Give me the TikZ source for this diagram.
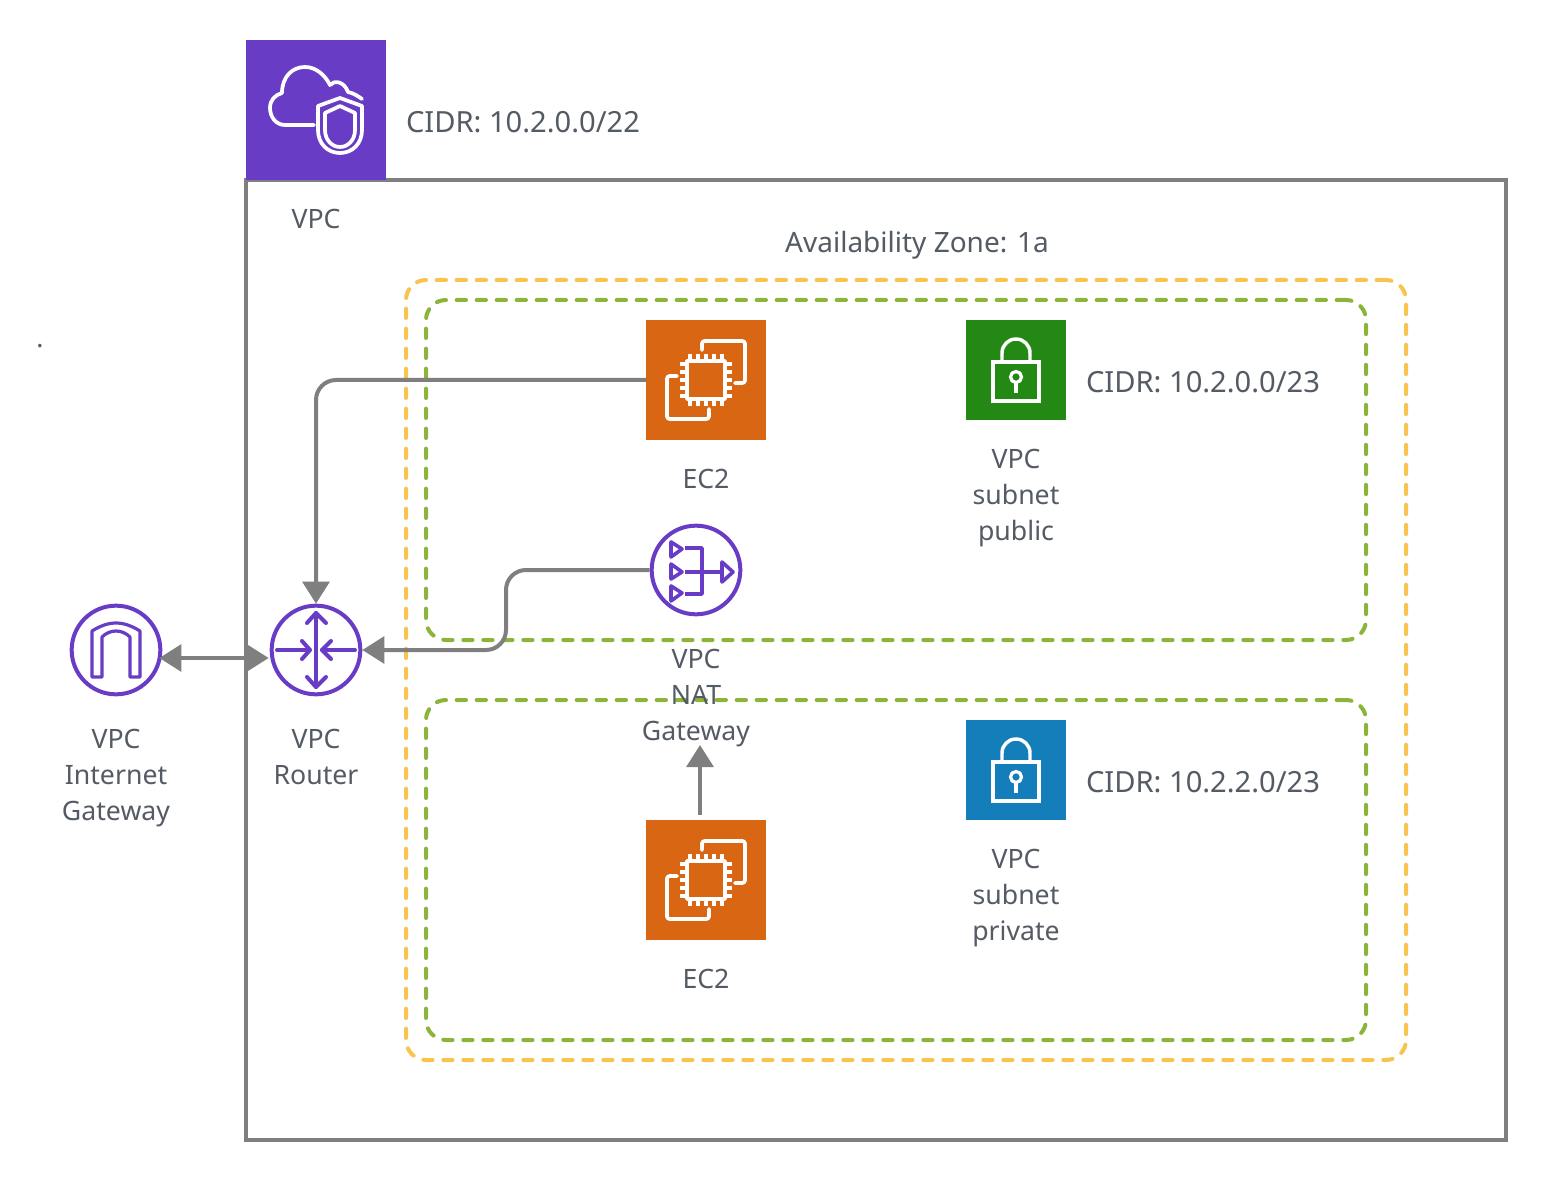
\documentclass[tikz,border=0pt]{standalone}
\usepackage{fontspec}
\setmainfont{Noto Sans}
\usetikzlibrary{arrows.meta,calc}
\definecolor{purp}{HTML}{693CC5}
\definecolor{orng}{HTML}{D86613}
\definecolor{grn}{HTML}{248814}
\definecolor{blu}{HTML}{147EBA}
\definecolor{gry}{HTML}{7F7F7F}
\definecolor{txt}{HTML}{545B64}
\definecolor{yelw}{HTML}{F8C34F}
\definecolor{lime}{HTML}{8CB43A}
\tikzset{
  x=0.75pt,y=-0.75pt,
  lbl/.style={text=txt,font=\fontsize{20}{27}\selectfont,align=center,inner sep=0pt},
  cidr/.style={lbl,font=\fontsize{21.85}{27}\selectfont},
  azbox/.style={draw=yelw,line width=3pt,rounded corners=15pt,line cap=round,dash pattern=on 7pt off 8pt},
  subbox/.style={draw=lime,line width=3pt,rounded corners=15pt,line cap=round,dash pattern=on 7pt off 8pt},
  tile/.style={inner sep=0pt,outer sep=0pt,minimum size=#1},
  ring/.style={circle,draw=purp,line width=3pt,inner sep=0pt,fill=white,minimum size=66.5pt},
  wht/.style={draw=white,line width=2.8pt,line join=round,line cap=round},
  thn/.style={draw=white,line width=2.4pt,line cap=butt},
  pur/.style={draw=purp,line width=3pt,line join=round,line cap=round},
  con/.style={draw=gry,line width=3pt,rounded corners=15pt,-{Triangle[length=16.5pt,width=20pt]}},
  condbl/.style={draw=gry,line width=3pt,{Triangle[length=16.5pt,width=20pt]}-{Triangle[length=16.5pt,width=20pt]}},
}
\begin{document}
\begin{tikzpicture}
\useasboundingbox (0,0) rectangle (1546,1180);
\fill[white] (0,0) rectangle (1546,1180);
% containers
\node[draw=gry,line width=3pt,inner sep=0pt,outer sep=0pt,minimum width=945pt,minimum height=720pt] (frame) at (876,660) {};
\node[azbox,inner sep=0pt,outer sep=0pt,minimum width=750pt,minimum height=585pt] (az) at (906,670) {};
\node[subbox,inner sep=0pt,outer sep=0pt,minimum width=705pt,minimum height=255pt] (pub) at (896,470) {};
\node[subbox,inner sep=0pt,outer sep=0pt,minimum width=705pt,minimum height=255pt] (priv) at (896,870) {};
% VPC tile
\node[tile=105pt,fill=purp] (vpc) at (316,110) {};
\draw[wht] (314,125) -- (285,125) .. controls (276,125) and (270,117) .. (270,108)
  .. controls (270,100) and (275,95) .. (282,93)
  .. controls (282,77) and (292,67) .. (305,67)
  .. controls (316,67) and (325,75) .. (330,85)
  .. controls (334,80) and (344,81) .. (348,92)
  .. controls (353,93) and (358,96) .. (362,99);
\draw[wht,fill=purp] (340,98) -- (318,106) -- (318,130) .. controls (318,144) and (328,153) .. (340,153)
  .. controls (352,153) and (362,144) .. (362,130) -- (362,106) -- cycle;
\draw[wht] (340,106) -- (325,113) -- (325,130) .. controls (325,140) and (332,147) .. (340,147)
  .. controls (348,147) and (355,140) .. (355,130) -- (355,113) -- cycle;
% EC2
\node[tile=90pt,fill=orng] (ec2a) at (706,380) {};
\node[tile=90pt,fill=orng] (ec2b) at (706,880) {};
\foreach \cy in {380,880}{
\begin{scope}[shift={(706,\cy)}]
  \draw[wht] (-19,-19) rectangle (19,19);
  \foreach \p in {-16,-8,0,8,16}{
    \draw[thn] (\p,-19) -- (\p,-26);
    \draw[thn] (\p,19) -- (\p,26);
    \draw[thn] (-19,\p) -- (-26,\p);
    \draw[thn] (19,\p) -- (26,\p);
  }
  \draw[wht,rounded corners=2pt] (-4,-30) -- (-4,-39) -- (39,-39) -- (39,3) -- (29,3);
  \draw[wht,rounded corners=2pt] (-29,-4) -- (-39,-4) -- (-39,39) -- (3,39) -- (3,29);
\end{scope}}
% subnets
\node[tile=75pt,fill=grn] (snpub) at (1016,370) {};
\node[tile=75pt,fill=blu] (snpriv) at (1016,770) {};
\foreach \cy in {370,770}{
\begin{scope}[shift={(1016,\cy)}]
  \draw[wht,line width=2.6pt,line cap=butt,line join=miter] (-23,-8) rectangle (23,31);
  \draw[wht,line width=2.6pt,line cap=butt] (-14,-8) -- (-14,-17) arc[start angle=180,end angle=360,radius=14] -- (14,-8);
  \draw[thn] (0,7) circle[radius=5.5];
  \draw[thn] (0,12.5) -- (0,23);
\end{scope}}
% circular icons
\node[ring] (igw) at (116,650) {};
\node[ring] (router) at (316,650) {};
\node[ring] (nat) at (696,570) {};
% igw glyph
\draw[pur,line width=2.4pt] (92,677) -- (92,631) .. controls (100,626) and (108,623) .. (116,623)
  .. controls (124,623) and (132,626) .. (140,631) -- (140,677) -- (130,677) -- (130,637)
  .. controls (126,633) and (121,631) .. (116,631) .. controls (111,631) and (106,633) .. (102,637)
  -- (102,677) -- cycle;
% router glyph
\draw[pur] (316,613) -- (316,687);
\draw[pur] (307,623) -- (316,613) -- (326,623);
\draw[pur] (307,677) -- (316,687) -- (326,677);
\draw[pur] (277,650) -- (310,650);
\draw[pur] (302,641) -- (310,650) -- (302,659);
\draw[pur] (355,650) -- (322,650);
\draw[pur] (331,641) -- (322,650) -- (331,659);
% nat glyph
\begin{scope}[pur/.append style={line width=2.7pt}]
\draw[pur] (671,542) -- (671,557) -- (682,549) -- cycle;
\draw[pur] (671,564) -- (671,579) -- (682,572) -- cycle;
\draw[pur] (671,586) -- (671,601) -- (682,593) -- cycle;
\draw[pur,line cap=butt] (685,548) -- (702,548) -- (702,594) -- (685,594);
\draw[pur,line cap=butt] (685,572) -- (722,572);
\draw[pur] (722,562) -- (722,582) -- (733,572) -- cycle;
\end{scope}
% connectors
\coordinate (turn) at (506,570);
\coordinate (privtip) at (700,745);
\draw[con] (ec2a.west) -| (router.north);
\draw[con] (nat.west) -- (turn) -- (turn |- router.east) -- (router.east);
\draw[condbl] ($(igw.east)+(-3,8)$) -- ($(router.west)+(-1,8)$);
\draw[con] ([xshift=-4.5pt,yshift=4pt]ec2b.north) -- (privtip);
% labels
\node[cidr] (t1) at (523,122) {CIDR: 10.2.0.0/22};
\node[lbl] (t2) at (316,219) {VPC};
\node[lbl,font=\fontsize{21}{27}\selectfont] (t3) at (917,245) {Availability Zone: 1a};
\node[lbl] (t4) at (706,479) {EC2};
\node[lbl] (t5) at (1016,498) {VPC\\subnet\\public};
\node[cidr] (t6) at (1203,382) {CIDR: 10.2.0.0/23};
\node[lbl] (t7) at (696,698) {VPC\\NAT\\Gateway};
\node[lbl] (t8) at (116,778) {VPC\\Internet\\Gateway};
\node[lbl] (t9) at (316,757) {VPC\\Router};
\node[lbl] (t10) at (1016,898) {VPC\\subnet\\private};
\node[cidr] (t11) at (1203,782) {CIDR: 10.2.2.0/23};
\node[lbl] (t12) at (706,979) {EC2};
\node[lbl] (t13) at (40,346) {.};
\end{tikzpicture}
\end{document}
